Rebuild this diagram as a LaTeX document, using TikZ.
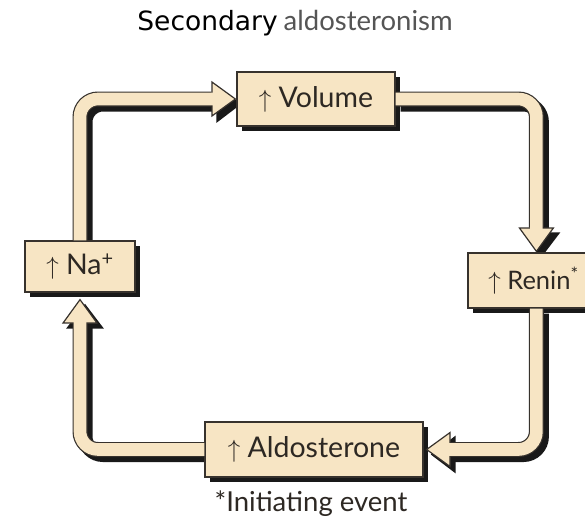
\documentclass[tikz,border=0pt]{standalone}
\usepackage{fontspec}
\setmainfont{Lato}
\newfontfamily\titlefont{DejaVu Sans}
\usetikzlibrary{arrows.meta,shadows,backgrounds}
\definecolor{cream}{RGB}{247,229,196}
\definecolor{edgec}{RGB}{55,50,45}
\definecolor{shade}{RGB}{25,25,25}
\definecolor{titlegray}{RGB}{85,85,85}
\definecolor{textc}{RGB}{45,40,35}
\begin{document}
\begin{tikzpicture}[x=1pt,y=-1pt,
  box/.style={draw=edgec, line width=1.2pt, fill=cream, inner sep=0pt,
    text=textc, font=\fontsize{28.5}{32}\selectfont,
    drop shadow={shadow xshift=5pt, shadow yshift=-5pt, fill=shade, opacity=1}},
  tubeout/.style={line width=15pt, draw=edgec, rounded corners=18pt,
    -{Triangle[width=36pt,length=25pt,line width=1.2pt,color=edgec,fill=cream]}},
  tubein/.style={line width=12.6pt, draw=cream, rounded corners=18pt, shorten >=23pt},
  tubeshadow/.style={line width=15pt, draw=shade, rounded corners=18pt,
    -{Triangle[width=36pt,length=25pt,color=shade,fill=shade]},
    transform canvas={shift={(5pt,-5pt)}}}
]
\useasboundingbox (0,0) rectangle (585,517);

\node[anchor=base] (title) at (295,30)
  {{\titlefont\fontsize{26.5}{30}\selectfont Secondary}\hspace{6pt}{\color{titlegray}\fontsize{27.5}{30}\selectfont aldosteronism}};

\node[box, minimum width=158pt, minimum height=54pt] (vol) at (316,99) {$\uparrow$ Volume};
\node[box, minimum width=110pt, minimum height=51pt] (na) at (80,266.5) {$\uparrow$ Na\textsuperscript{+}};
\node[box, minimum width=131pt, minimum height=55pt, font=\fontsize{25.5}{30}\selectfont] (renin) at (533.5,280.5) {$\uparrow$ Renin\textsuperscript{*}};
\node[box, minimum width=218pt, minimum height=55pt] (ald) at (314,449.5) {$\uparrow$ Aldosterone};

\coordinate (rtop) at ([xshift=69pt]renin.north west);
\coordinate (rbot) at ([xshift=69pt]renin.south west);
\coordinate (nabot) at ([yshift=-6pt]na.south);
\coordinate (aldr) at ([xshift=2pt]ald.east);

\node[anchor=base, text=textc, font=\fontsize{27.5}{30}\selectfont] (note) at (311,511) {*Initiating event};

\begin{pgfonlayer}{background}
  \fill[white] (0,0) rectangle (585,517);
  \draw[tubeshadow] (na.north) |- (vol.west);
  \draw[tubeshadow] (vol.east) -| (rtop);
  \draw[tubeshadow] (rbot) |- (aldr);
  \draw[tubeshadow] (ald.west) -| (nabot);
\end{pgfonlayer}

\draw[tubeout] (na.north) |- (vol.west);
\draw[tubein] (na.north) |- (vol.west);
\draw[tubeout] (vol.east) -| (rtop);
\draw[tubein] (vol.east) -| (rtop);
\draw[tubeout] (rbot) |- (aldr);
\draw[tubein] (rbot) |- (aldr);
\draw[tubeout] (ald.west) -| (nabot);
\draw[tubein] (ald.west) -| (nabot);
\end{tikzpicture}
\end{document}
